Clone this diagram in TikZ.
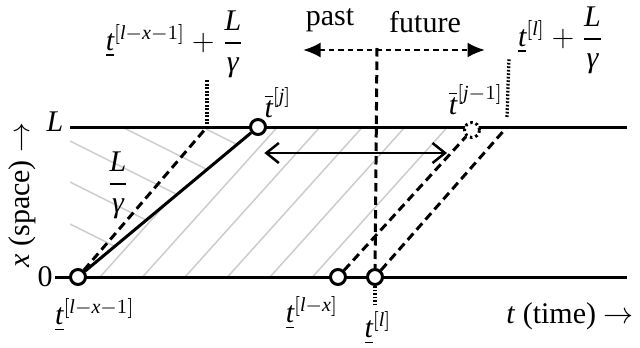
\documentclass[tikz,border=0pt]{standalone}
\usepackage{amsmath}
\usepackage{fontspec}
\setmainfont{Liberation Serif}
\usetikzlibrary{arrows.meta, positioning}

\newcommand{\vi}[1]{\textit{#1}}

\begin{document}
\begin{tikzpicture}[
    x=0.4pt, y=-0.4pt,
    every node/.style={font=\fontsize{12}{14}\selectfont, inner sep=1pt},
    axis/.style={line width=1.2pt},
    hatch/.style={line width=0.6pt, draw=gray!40},
    move/.style={line width=1.2pt, dash pattern=on 3.4pt off 2pt},
    tickline/.style={line width=1.3pt, dash pattern=on 0.7pt off 0.7pt},
    event/.style={circle, draw, line width=1.2pt, fill=white, minimum size=6pt, inner sep=0pt},
    ghost/.style={circle, draw, line width=1.2pt, dash pattern=on 1pt off 1.2pt, fill=white, minimum size=6pt, inner sep=0pt},
    span/.style={{Straight Barb[length=5pt, width=8pt]}-{Straight Barb[length=5pt, width=8pt]}, line width=1pt},
    dir/.style={{Latex[length=7pt, width=6pt]}-{Latex[length=7pt, width=6pt]}, line width=1pt, dash pattern=on 2.2pt off 1.6pt}
]
    \useasboundingbox (0,0) rectangle (640,347);

    % Axes
    \node (lL) at (55,122) {\vi{L}};
    \node (l0) at (45,277) {0};
    \coordinate (topL) at (70,127);
    \coordinate (topR) at (627,127);
    \coordinate (botL) at (55,277);
    \coordinate (botR) at (627,277);

    % Hatching
    \begin{scope}
        \clip (78,277) -- (258,127) -- (640,127) -- (640,277) -- cycle;
        \foreach \b in {100, 142.5, ..., 315}
            \draw[hatch] (\b,277) -- (\b+135,127);
    \end{scope}
    \begin{scope}
        \clip (70,127) -- (258,127) -- (78,277) -- (70,277) -- cycle;
        \foreach \y in {61, 101, 141, 182, 224}
            \draw[hatch] (70,\y) -- +(240,120);
    \end{scope}

    \draw[axis] (topL) -- (topR);
    \draw[axis] (botL) -- (botR);

    % Events
    \node[event] (e0) at (78,277) {};
    \node[event] (ej) at (258,127) {};
    \node[event] (elx) at (338,277) {};
    \node[event] (el) at (375,277) {};
    \node[ghost] (ejm) at (472,130) {};
    \coordinate (hitL) at (207,127);
    \coordinate (hitR) at (507,127);

    % Connectors
    \draw[line width=1.2pt] (e0) -- (ej);
    \draw[move] (e0) -- (hitL);
    \draw[move] (elx) -- (ejm);
    \draw[move] (el) -- (hitR);
    \draw[span] (ej.south east |- 0,153) -- (447,153);

    \coordinate (nowTop) at (377,48);
    \draw[move] (nowTop) -- (el);
    \draw[tickline] (el.south) -- +(0,20);
    \draw[tickline] (hitL) ++(0,-3) -- (207,79);
    \draw[tickline] (hitR) ++(0,-10) -- (509,58);

    \draw[dir] (303,50) -- (485,50);
    \node (past) at (330,20) {past};
    \node (future) at (425,22) {future};

    % Labels
    \node (lab1) at (175,44) {$\underline{\vi{t}}^{[\vi{l}-\vi{x}-1]}+\dfrac{\vi{L}}{\vi{γ}}$};
    \node (lab2) at (561,40) {$\underline{\vi{t}}^{[\vi{l}]}+\dfrac{\vi{L}}{\vi{γ}}$};
    \node (lab3) at (278,103) {$\overline{\vi{t}}^{[\vi{j}]}$};
    \node (lab4) at (476,100) {$\overline{\vi{t}}^{[\vi{j}-1]}$};
    \node (lab5) at (95,315) {$\underline{\vi{t}}^{[\vi{l}-\vi{x}-1]}$};
    \node (lab6) at (312,313) {$\underline{\vi{t}}^{[\vi{l}-\vi{x}]}$};
    \node (lab7) at (378,328) {$\underline{\vi{t}}^{[\vi{l}]}$};
    \node (lab8) at (118,185) {$\dfrac{\vi{L}}{\vi{γ}}$};
    \node (time) at (570,316) {\vi{t} (time) $\rightarrow$};
    \node[rotate=90] (space) at (22,195) {\vi{x} (space) $\rightarrow$};

\end{tikzpicture}
\end{document}
